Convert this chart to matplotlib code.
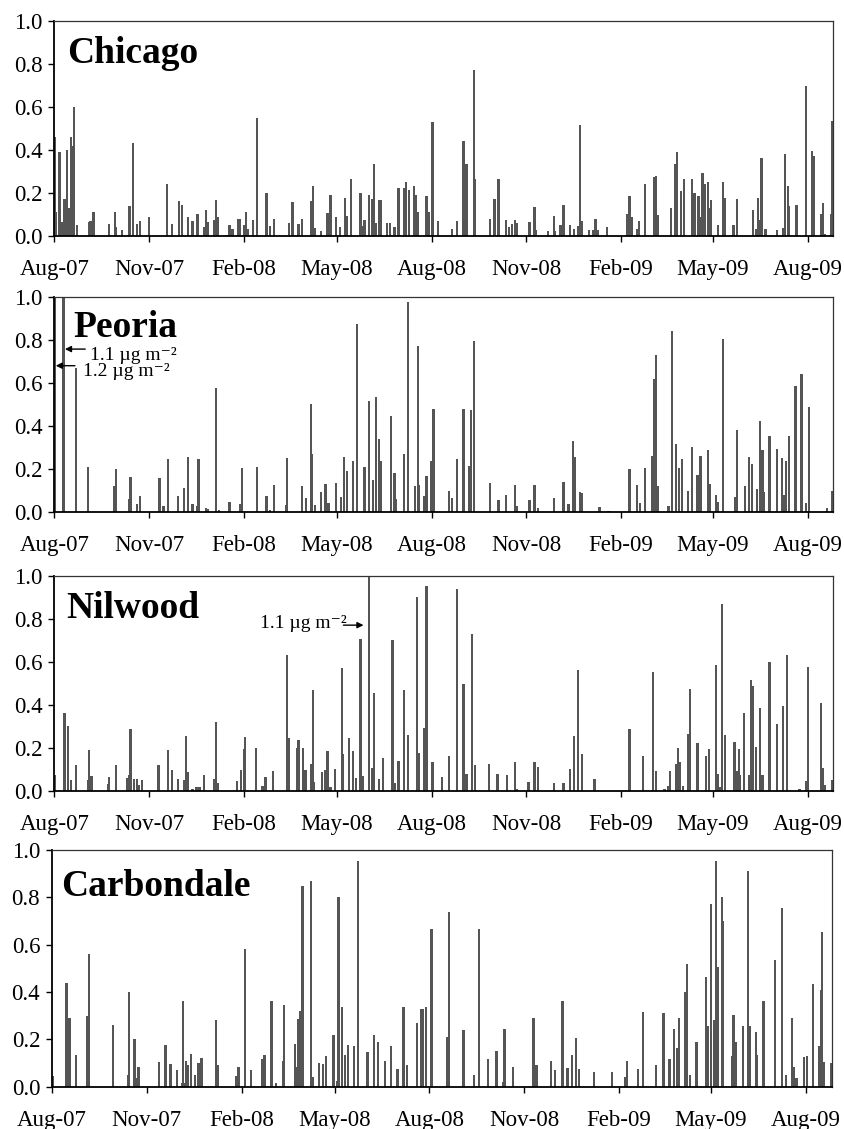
import numpy as np
import matplotlib
matplotlib.use("Agg")
import matplotlib.pyplot as plt
import matplotlib.dates as mdates

# days since 1 Aug 2007 and daily deposition (ug m-2)
chicago_days = [1, 2, 5, 8, 10, 12, 14, 16, 18, 19, 22, 34, 35, 38, 53, 59, 60, 66, 73, 76, 80, 83, 92,
                109, 114, 121, 124, 130, 134, 139, 145, 147, 149, 155, 157, 159, 167, 170, 173, 178, 180,
                184, 186, 188, 193, 197, 206, 209, 213, 228, 231, 237, 240, 249, 251, 253, 259, 265, 268,
                273, 277, 282, 284, 288, 297, 300, 301, 305, 308, 310, 312, 315, 317, 323, 326, 330, 334,
                339, 341, 344, 349, 351, 353, 361, 363, 367, 372, 386, 391, 397, 400, 407, 408, 423, 427,
                431, 438, 441, 444, 447, 449, 461, 466, 467, 479, 485, 486, 491, 494, 500, 504, 508, 510,
                512, 519, 523, 525, 527, 536, 556, 558, 560, 565, 567, 573, 582, 584, 586, 598, 602, 604,
                608, 611, 619, 621, 625, 627, 629, 631, 634, 635, 637, 644, 649, 651, 659, 662, 678, 681,
                683, 685, 686, 690, 701, 707, 709, 712, 713, 720, 729, 735, 737, 744, 746, 748, 754, 755]
chicago_vals = [0.46, 0.11, 0.39, 0.065, 0.17, 0.40, 0.13, 0.46, 0.42, 0.60, 0.05, 0.065, 0.07, 0.11, 0.055,
                0.11, 0.04, 0.025, 0.14, 0.43, 0.055, 0.07, 0.085, 0.24, 0.055, 0.16, 0.145, 0.085, 0.07,
                0.10, 0.04, 0.12, 0.065, 0.075, 0.165, 0.085, 0.005, 0.05, 0.03, 0.08, 0.078, 0.05, 0.11,
                0.03, 0.075, 0.55, 0.20, 0.045, 0.08, 0.06, 0.155, 0.055, 0.08, 0.16, 0.23, 0.035, 0.02,
                0.105, 0.19, 0.085, 0.04, 0.175, 0.09, 0.265, 0.20, 0.045, 0.075, 0.19, 0.17, 0.335, 0.06,
                0.165, 0.165, 0.06, 0.06, 0.04, 0.22, 0.22, 0.25, 0.215, 0.23, 0.19, 0.11, 0.185, 0.11,
                0.53, 0.07, 0.03, 0.07, 0.44, 0.335, 0.77, 0.265, 0.078, 0.17, 0.265, 0.075, 0.04, 0.053,
                0.075, 0.06, 0.062, 0.133, 0.026, 0.02, 0.09, 0.02, 0.05, 0.145, 0.05, 0.03, 0.045, 0.515,
                0.07, 0.025, 0.025, 0.08, 0.026, 0.04, 0.10, 0.185, 0.085, 0.03, 0.067, 0.24, 0.275, 0.28,
                0.097, 0.127, 0.335, 0.39, 0.21, 0.265, 0.265, 0.20, 0.185, 0.085, 0.29, 0.24, 0.25, 0.13,
                0.165, 0.05, 0.25, 0.175, 0.05, 0.17, 0.12, 0.03, 0.175, 0.075, 0.36, 0.03, 0.025, 0.035,
                0.38, 0.23, 0.14, 0.145, 0.695, 0.395, 0.37, 0.10, 0.15, 0.01, 0.10, 0.535]

peoria_days = [1, 9, 21, 33, 58, 60, 73, 74, 80, 83, 102, 106, 110, 120, 126, 130, 134, 139, 140, 147, 149,
               157, 160, 170, 180, 182, 197, 206, 209, 213, 225, 226, 240, 244, 249, 250, 253, 259, 263,
               266, 273, 278, 281, 284, 290, 294, 301, 305, 309, 312, 315, 317, 327, 330, 331, 339, 343,
               350, 353, 354, 359, 361, 366, 368, 383, 386, 391, 397, 402, 404, 407, 423, 431, 438, 447,
               449, 461, 466, 469, 485, 494, 499, 503, 505, 510, 512, 529, 537, 539, 558, 565, 568, 573,
               580, 582, 584, 586, 596, 599, 603, 606, 609, 615, 619, 624, 627, 634, 636, 642, 644, 649,
               661, 662, 670, 674, 677, 682, 685, 687, 688, 694, 701, 706, 708, 710, 713, 719, 725, 729,
               732, 750, 755]
peoria_vals = [1.2, 1.1, 0.67, 0.21, 0.12, 0.20, 0.06, 0.165, 0.04, 0.075, 0.16, 0.03, 0.245, 0.075, 0.115,
               0.255, 0.04, 0.03, 0.245, 0.02, 0.015, 0.575, 0.01, 0.05, 0.04, 0.205, 0.21, 0.075, 0.01,
               0.125, 0.035, 0.25, 0.12, 0.065, 0.50, 0.27, 0.035, 0.095, 0.13, 0.045, 0.135, 0.07, 0.255,
               0.19, 0.24, 0.875, 0.21, 0.515, 0.15, 0.535, 0.34, 0.24, 0.445, 0.18, 0.06, 0.27, 0.975,
               0.12, 0.77, 0.125, 0.075, 0.17, 0.24, 0.48, 0.10, 0.065, 0.245, 0.48, 0.215, 0.475, 0.795,
               0.135, 0.055, 0.08, 0.125, 0.03, 0.055, 0.125, 0.02, 0.065, 0.14, 0.04, 0.33, 0.255, 0.095,
               0.09, 0.025, 0.005, 0.005, 0.20, 0.125, 0.045, 0.205, 0.26, 0.62, 0.73, 0.12, 0.03, 0.84,
               0.315, 0.205, 0.245, 0.10, 0.305, 0.175, 0.26, 0.29, 0.13, 0.08, 0.05, 0.805, 0.07, 0.38,
               0.12, 0.255, 0.225, 0.11, 0.425, 0.29, 0.095, 0.355, 0.295, 0.25, 0.08, 0.24, 0.355, 0.585,
               0.64, 0.045, 0.49, 0.02, 0.10]

nilwood_days = [1, 10, 13, 16, 21, 33, 34, 36, 52, 53, 60, 71, 73, 74, 77, 80, 82, 85, 101, 110, 114, 120,
                126, 128, 130, 134, 138, 141, 145, 155, 157, 159, 177, 181, 184, 185, 196, 202, 204, 205,
                212, 226, 228, 236, 237, 241, 243, 244, 249, 251, 252, 260, 263, 265, 268, 272, 279, 280,
                286, 290, 293, 297, 299, 305, 308, 310, 315, 319, 328, 330, 334, 339, 343, 352, 354, 359,
                361, 367, 376, 383, 391, 397, 400, 405, 408, 422, 430, 439, 447, 449, 460, 466, 469, 485,
                494, 500, 504, 508, 512, 524, 558, 571, 581, 584, 592, 596, 597, 603, 605, 607, 610, 615,
                617, 624, 632, 635, 642, 644, 646, 648, 651, 660, 662, 664, 665, 669, 674, 676, 678, 681,
                685, 687, 694, 701, 707, 711, 723, 729, 731, 744, 746, 748, 755]
nilwood_vals = [0.075, 0.36, 0.30, 0.05, 0.12, 0.05, 0.19, 0.07, 0.03, 0.065, 0.12, 0.06, 0.075, 0.285,
                0.055, 0.055, 0.025, 0.05, 0.12, 0.19, 0.095, 0.055, 0.05, 0.255, 0.085, 0.008, 0.018,
                0.018, 0.075, 0.055, 0.32, 0.035, 0.045, 0.095, 0.195, 0.25, 0.20, 0.02, 0.023, 0.065, 0.09,
                0.63, 0.245, 0.20, 0.235, 0.20, 0.095, 0.095, 0.125, 0.47, 0.04, 0.085, 0.095, 0.185, 0.018,
                0.10, 0.57, 0.17, 0.245, 0.185, 0.06, 0.705, 0.07, 1.1, 0.105, 0.455, 0.055, 0.15, 0.70,
                0.035, 0.14, 0.47, 0.26, 0.90, 0.175, 0.29, 0.95, 0.135, 0.065, 0.16, 0.94, 0.495, 0.08,
                0.73, 0.12, 0.125, 0.08, 0.075, 0.135, 0.008, 0.04, 0.135, 0.11, 0.035, 0.035, 0.10, 0.255,
                0.56, 0.17, 0.055, 0.285, 0.16, 0.55, 0.09, 0.008, 0.023, 0.09, 0.125, 0.20, 0.135, 0.023,
                0.265, 0.475, 0.22, 0.16, 0.195, 0.585, 0.08, 0.015, 0.87, 0.26, 0.225, 0.09, 0.195, 0.075,
                0.36, 0.075, 0.515, 0.485, 0.205, 0.385, 0.075, 0.60, 0.31, 0.395, 0.63, 0.01, 0.045, 0.575,
                0.41, 0.105, 0.025, 0.05]

carbondale_days = [1, 14, 17, 23, 34, 36, 59, 74, 75, 80, 82, 84, 104, 110, 115, 121, 126, 127, 129, 130,
                   132, 135, 139, 142, 145, 159, 161, 179, 181, 187, 193, 204, 206, 213, 217, 224, 225, 236,
                   237, 239, 241, 243, 251, 253, 259, 263, 266, 273, 277, 278, 281, 284, 287, 293, 297, 306,
                   312, 316, 323, 329, 335, 341, 344, 354, 358, 360, 363, 368, 383, 385, 399, 409, 414, 423,
                   431, 438, 439, 447, 467, 470, 484, 488, 495, 500, 504, 508, 511, 526, 543, 556, 558, 568,
                   573, 586, 593, 599, 603, 606, 608, 614, 616, 619, 625, 634, 635, 636, 639, 642, 644, 646,
                   650, 651, 660, 661, 663, 670, 675, 677, 683, 684, 690, 701, 708, 712, 718, 720, 722, 729,
                   732, 738, 744, 746, 747, 749, 756]
carbondale_vals = [0.045, 0.44, 0.29, 0.135, 0.30, 0.56, 0.26, 0.05, 0.40, 0.20, 0.035, 0.085, 0.105, 0.175,
                   0.095, 0.07, 0.015, 0.36, 0.015, 0.11, 0.09, 0.14, 0.05, 0.10, 0.12, 0.28, 0.09, 0.045,
                   0.085, 0.58, 0.07, 0.115, 0.135, 0.36, 0.015, 0.11, 0.345, 0.18, 0.085, 0.285, 0.32, 0.85,
                   0.87, 0.04, 0.10, 0.095, 0.13, 0.22, 0.025, 0.80, 0.335, 0.135, 0.175, 0.17, 0.955, 0.145,
                   0.22, 0.19, 0.11, 0.17, 0.075, 0.335, 0.09, 0.27, 0.33, 0.33, 0.335, 0.665, 0.21, 0.74,
                   0.24, 0.05, 0.665, 0.115, 0.15, 0.02, 0.245, 0.085, 0.29, 0.09, 0.11, 0.07, 0.36, 0.08,
                   0.135, 0.205, 0.075, 0.06, 0.06, 0.04, 0.11, 0.075, 0.315, 0.09, 0.31, 0.115, 0.245, 0.165,
                   0.29, 0.40, 0.52, 0.05, 0.19, 0.465, 0.255, 0.255, 0.77, 0.28, 0.955, 0.505, 0.80, 0.70,
                   0.13, 0.305, 0.19, 0.255, 0.91, 0.255, 0.23, 0.135, 0.36, 0.535, 0.755, 0.05, 0.29, 0.085,
                   0.035, 0.125, 0.13, 0.435, 0.17, 0.41, 0.655, 0.105, 0.10]

site_names = ["Chicago", "Peoria", "Nilwood", "Carbondale"]
site_days = [chicago_days, peoria_days, nilwood_days, carbondale_days]
site_vals = [chicago_vals, peoria_vals, nilwood_vals, carbondale_vals]

plt.rcParams['font.family'] = ['Liberation Serif', 'DejaVu Serif']

W, H = 845, 1129
fig = plt.figure(figsize=(W / 100, H / 100), dpi=100)

# axes boxes in pixels: left, right, top, bottom
boxes = [(54.3, 832.7, 21, 235.7),
         (54.3, 832.7, 296.7, 512.3),
         (54.3, 832.7, 575.7, 790.7),
         (52.0, 832.3, 850, 1086.7)]
right_days = [755.2, 755.2, 755.2, 756.8]
title_pos = [(0.016, 0.803), (0.025, 0.812), (0.015, 0.802), (0.0115, 0.805)]

start = np.datetime64('2007-08-01')
x0 = mdates.date2num(start)
axes = []
for i in range(4):
    l, r, t, b = boxes[i]
    ax = fig.add_axes([l / W, 1 - b / H, (r - l) / W, (b - t) / H])
    dates = start + np.array(site_days[i]).astype('timedelta64[D]')
    ax.bar(dates, site_vals[i], width=2.2, color='#555555', linewidth=0)
    ax.set_ylim(0, 1.0)
    ax.set_xlim(x0, x0 + right_days[i])
    ax.set_yticks(np.arange(0, 1.01, 0.2))
    ax.set_yticklabels(['%.1f' % v for v in np.arange(0, 1.01, 0.2)])
    ax.xaxis.set_major_locator(mdates.MonthLocator(bymonth=[2, 5, 8, 11]))
    ax.xaxis.set_major_formatter(mdates.DateFormatter('%b-%y'))
    ax.tick_params(axis='both', direction='out', length=4.5, width=1, labelsize=16.5, colors='black')
    ax.tick_params(axis='x', pad=12)
    ax.tick_params(axis='y', pad=4)
    for side in ['left', 'bottom']:
        ax.spines[side].set_linewidth(1.3)
        ax.spines[side].set_color('black')
    for side in ['top', 'right']:
        ax.spines[side].set_linewidth(0.9)
        ax.spines[side].set_color('#333333')
    ax.text(title_pos[i][0], title_pos[i][1], site_names[i], transform=ax.transAxes,
            fontsize=27, fontweight='bold', ha='left', va='baseline')
    axes.append(ax)

# labels for bars that run off the top
arrow = dict(arrowstyle='-|>', color='black', lw=1, mutation_scale=9, shrinkA=0, shrinkB=0)

ax = axes[1]
ax.annotate('', xy=(x0 + 10.3, 0.757), xytext=(x0 + 30, 0.757), arrowprops=arrow)
ax.text(x0 + 34.6, 0.705, '1.1 µg m⁻²', fontsize=14, ha='left', va='baseline')
ax.annotate('', xy=(x0 + 1.4, 0.68), xytext=(x0 + 20, 0.68), arrowprops=arrow)
ax.text(x0 + 28.1, 0.632, '1.2 µg m⁻²', fontsize=14, ha='left', va='baseline')

ax = axes[2]
ax.text(x0 + 199.5, 0.755, '1.1 µg m⁻²', fontsize=14, ha='left', va='baseline')
ax.annotate('', xy=(x0 + 300, 0.77), xytext=(x0 + 280.5, 0.77), arrowprops=arrow)

plt.savefig('out.png', dpi=100)
